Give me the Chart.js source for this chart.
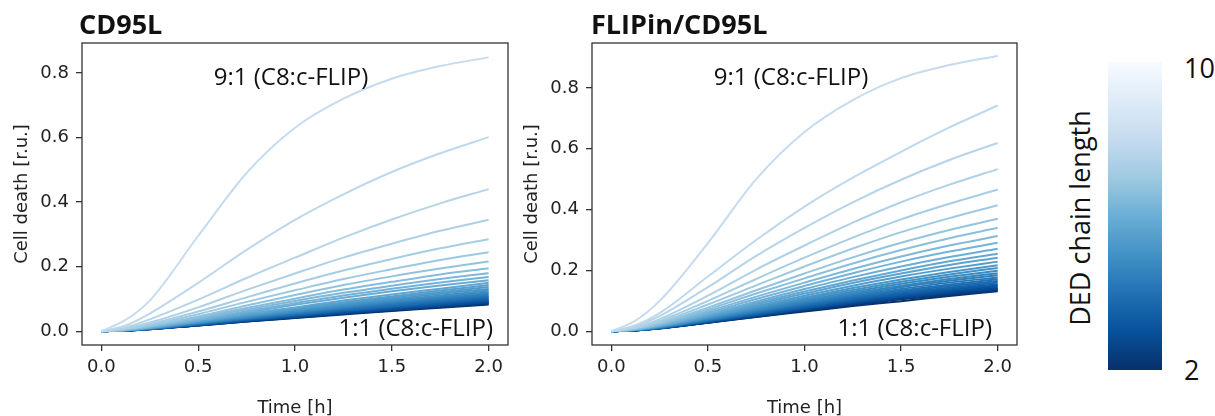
<!DOCTYPE html>
<html>
<head>
<meta charset="utf-8">
<script src="https://cdn.jsdelivr.net/npm/chart.js@4.4.1/dist/chart.umd.min.js"></script>
<style>
  body { margin: 0; background: #fff; }
  #page { position: relative; width: 1215px; height: 416px; overflow: hidden; font-family: "Open Sans", sans-serif; color: #111; }
  canvas { position: absolute; top: 0; }
  .title { position: absolute; top: 10px; font-weight: 700; font-size: 27px; line-height: 1; white-space: nowrap; }
  .note { position: absolute; font-size: 24px; line-height: 1; white-space: nowrap; }
  #cbar { position: absolute; left: 1108px; top: 62px; width: 54px; height: 308px;
    background: linear-gradient(to top, #08306b 0%, #08519c 12.5%, #2171b5 25%, #4292c6 37.5%, #6baed6 50%, #9ecae1 62.5%, #c6dbef 75%, #deebf7 87.5%, #f7fbff 100%); }
  .cbtick { position: absolute; left: 1184px; font-size: 27px; line-height: 1; }
  #cblabel { position: absolute; left: 1079px; top: 218px; font-size: 27px; line-height: 1; white-space: nowrap; transform: translate(-50%, -50%) rotate(-90deg); }
</style>
</head>
<body>
<div id="page">
  <canvas id="cd95l-chart" width="540" height="416" style="left:0"></canvas>
  <canvas id="flipin-chart" width="540" height="416" style="left:510px"></canvas>
  <div class="title" style="left:79px">CD95L</div>
  <div class="title" style="left:591px">FLIPin/CD95L</div>
  <div class="note" style="left:291px; top:76px; transform:translate(-50%,-50%)">9:1 (C8:c-FLIP)</div>
  <div class="note" style="left:493px; top:327px; transform:translate(-100%,-50%)">1:1 (C8:c-FLIP)</div>
  <div class="note" style="left:791px; top:76px; transform:translate(-50%,-50%)">9:1 (C8:c-FLIP)</div>
  <div class="note" style="left:992px; top:327px; transform:translate(-100%,-50%)">1:1 (C8:c-FLIP)</div>
  <div id="cbar"></div>
  <div class="cbtick" style="top:54px">10</div>
  <div class="cbtick" style="top:356px">2</div>
  <div id="cblabel">DED chain length</div>
</div>
<script>
const timeH = [0, 0.125, 0.25, 0.5, 0.75, 1.0, 1.25, 1.5, 1.75, 2.0];
const xTicks = [0, 0.5, 1.0, 1.5, 2.0];
const yTicks = [0, 0.2, 0.4, 0.6, 0.8];

// cell death per curve, 9:1 (top) down to 1:1 (bottom)
const cd95lDeath = [
  [0, 0.035, 0.095, 0.295, 0.490, 0.630, 0.720, 0.782, 0.821, 0.848],
  [0, 0.018, 0.055, 0.150, 0.252, 0.345, 0.424, 0.493, 0.551, 0.601],
  [0, 0.012, 0.037, 0.098, 0.165, 0.228, 0.290, 0.346, 0.396, 0.440],
  [0, 0.009, 0.027, 0.074, 0.128, 0.179, 0.228, 0.271, 0.311, 0.345],
  [0, 0.007, 0.022, 0.061, 0.105, 0.148, 0.188, 0.224, 0.257, 0.285],
  [0, 0.006, 0.019, 0.053, 0.091, 0.127, 0.162, 0.192, 0.221, 0.245],
  [0, 0.006, 0.017, 0.046, 0.080, 0.112, 0.143, 0.170, 0.194, 0.216],
  [0, 0.005, 0.015, 0.042, 0.072, 0.101, 0.129, 0.153, 0.176, 0.195],
  [0, 0.005, 0.014, 0.039, 0.067, 0.094, 0.119, 0.141, 0.162, 0.180],
  [0, 0.004, 0.013, 0.036, 0.062, 0.087, 0.111, 0.132, 0.151, 0.168],
  [0, 0.004, 0.012, 0.034, 0.058, 0.082, 0.104, 0.124, 0.142, 0.158],
  [0, 0.004, 0.011, 0.032, 0.054, 0.074, 0.095, 0.114, 0.132, 0.150],
  [0, 0.004, 0.011, 0.031, 0.051, 0.071, 0.090, 0.108, 0.126, 0.143],
  [0, 0.003, 0.010, 0.029, 0.049, 0.068, 0.087, 0.104, 0.121, 0.137],
  [0, 0.003, 0.010, 0.028, 0.047, 0.065, 0.083, 0.099, 0.116, 0.131],
  [0, 0.003, 0.009, 0.027, 0.045, 0.062, 0.080, 0.095, 0.111, 0.126],
  [0, 0.003, 0.009, 0.026, 0.043, 0.060, 0.076, 0.092, 0.107, 0.121],
  [0, 0.003, 0.009, 0.025, 0.042, 0.058, 0.074, 0.089, 0.103, 0.117],
  [0, 0.003, 0.008, 0.024, 0.040, 0.056, 0.071, 0.086, 0.100, 0.113],
  [0, 0.003, 0.008, 0.023, 0.039, 0.054, 0.069, 0.083, 0.096, 0.109],
  [0, 0.003, 0.008, 0.022, 0.038, 0.052, 0.066, 0.079, 0.093, 0.105],
  [0, 0.003, 0.008, 0.022, 0.037, 0.051, 0.064, 0.077, 0.090, 0.102],
  [0, 0.002, 0.007, 0.021, 0.035, 0.049, 0.063, 0.075, 0.087, 0.099],
  [0, 0.002, 0.007, 0.021, 0.034, 0.048, 0.061, 0.073, 0.085, 0.096],
  [0, 0.002, 0.007, 0.020, 0.033, 0.046, 0.059, 0.070, 0.082, 0.093],
  [0, 0.002, 0.007, 0.019, 0.033, 0.045, 0.058, 0.069, 0.080, 0.091],
  [0, 0.002, 0.007, 0.019, 0.032, 0.044, 0.056, 0.067, 0.078, 0.089],
  [0, 0.002, 0.006, 0.019, 0.031, 0.043, 0.055, 0.066, 0.077, 0.087],
  [0, 0.002, 0.006, 0.018, 0.030, 0.042, 0.054, 0.064, 0.075, 0.085],
  [0, 0.002, 0.006, 0.018, 0.030, 0.041, 0.052, 0.063, 0.073, 0.083],
];

const flipinDeath = [
  [0, 0.035, 0.100, 0.290, 0.500, 0.655, 0.760, 0.832, 0.875, 0.905],
  [0, 0.020, 0.060, 0.180, 0.300, 0.410, 0.505, 0.590, 0.670, 0.742],
  [0, 0.017, 0.050, 0.145, 0.248, 0.340, 0.424, 0.498, 0.563, 0.619],
  [0, 0.013, 0.040, 0.117, 0.203, 0.282, 0.357, 0.424, 0.482, 0.533],
  [0, 0.011, 0.034, 0.100, 0.172, 0.242, 0.308, 0.368, 0.419, 0.466],
  [0, 0.010, 0.030, 0.088, 0.151, 0.213, 0.272, 0.326, 0.372, 0.414],
  [0, 0.009, 0.027, 0.078, 0.135, 0.190, 0.243, 0.291, 0.333, 0.370],
  [0, 0.008, 0.024, 0.072, 0.124, 0.174, 0.223, 0.267, 0.306, 0.340],
  [0, 0.007, 0.022, 0.066, 0.114, 0.160, 0.205, 0.246, 0.282, 0.313],
  [0, 0.007, 0.021, 0.061, 0.106, 0.149, 0.191, 0.229, 0.262, 0.291],
  [0, 0.006, 0.019, 0.057, 0.098, 0.139, 0.178, 0.213, 0.244, 0.271],
  [0, 0.006, 0.018, 0.054, 0.093, 0.131, 0.167, 0.200, 0.230, 0.255],
  [0, 0.006, 0.017, 0.051, 0.088, 0.124, 0.159, 0.190, 0.218, 0.242],
  [0, 0.005, 0.016, 0.048, 0.083, 0.117, 0.150, 0.180, 0.206, 0.229],
  [0, 0.005, 0.015, 0.046, 0.079, 0.111, 0.142, 0.170, 0.195, 0.217],
  [0, 0.005, 0.015, 0.044, 0.076, 0.107, 0.136, 0.163, 0.187, 0.208],
  [0, 0.005, 0.014, 0.042, 0.072, 0.102, 0.130, 0.156, 0.179, 0.199],
  [0, 0.005, 0.014, 0.040, 0.069, 0.098, 0.125, 0.150, 0.172, 0.191],
  [0, 0.004, 0.013, 0.039, 0.067, 0.094, 0.120, 0.145, 0.166, 0.184],
  [0, 0.004, 0.013, 0.037, 0.064, 0.091, 0.116, 0.139, 0.160, 0.177],
  [0, 0.004, 0.012, 0.036, 0.062, 0.088, 0.112, 0.134, 0.154, 0.171],
  [0, 0.004, 0.012, 0.035, 0.060, 0.085, 0.108, 0.130, 0.149, 0.165],
  [0, 0.004, 0.011, 0.034, 0.058, 0.082, 0.105, 0.126, 0.144, 0.160],
  [0, 0.004, 0.011, 0.033, 0.056, 0.079, 0.101, 0.122, 0.140, 0.155],
  [0, 0.004, 0.011, 0.032, 0.055, 0.077, 0.099, 0.119, 0.136, 0.151],
  [0, 0.004, 0.011, 0.031, 0.053, 0.075, 0.096, 0.115, 0.132, 0.147],
  [0, 0.003, 0.010, 0.030, 0.052, 0.073, 0.094, 0.112, 0.129, 0.143],
  [0, 0.003, 0.010, 0.029, 0.051, 0.072, 0.092, 0.110, 0.126, 0.140],
  [0, 0.003, 0.010, 0.029, 0.050, 0.070, 0.090, 0.108, 0.123, 0.137],
  [0, 0.003, 0.010, 0.028, 0.048, 0.068, 0.087, 0.105, 0.120, 0.134],
  [0, 0.003, 0.009, 0.028, 0.047, 0.065, 0.083, 0.099, 0.116, 0.132],
];

// matplotlib "Blues" stops
const bluesStops = [
  [0.0, [247, 251, 255]], [0.125, [222, 235, 247]], [0.25, [198, 219, 239]],
  [0.375, [158, 202, 225]], [0.5, [107, 174, 214]], [0.625, [66, 146, 198]],
  [0.75, [33, 113, 181]], [0.875, [8, 81, 156]], [1.0, [8, 48, 107]],
];

function blues(t) {
  for (let i = 1; i < bluesStops.length; i++) {
    const [t1, c1] = bluesStops[i];
    const [t0, c0] = bluesStops[i - 1];
    if (t <= t1) {
      const f = (t - t0) / (t1 - t0);
      const c = c0.map((v, k) => Math.round(v + (c1[k] - v) * f));
      return `rgb(${c[0]}, ${c[1]}, ${c[2]})`;
    }
  }
  return "rgb(8, 48, 107)";
}

function toDatasets(rows) {
  return rows.map((row, i) => ({
    data: row.map((v, k) => ({ x: timeH[k], y: v })),
    borderColor: blues(0.25 + (0.75 * i) / (rows.length - 1)),
    borderWidth: 2,
    pointRadius: 0,
    fill: false,
    cubicInterpolationMode: "monotone",
  }));
}

const frame = {
  id: "frame",
  afterDatasetsDraw(chart) {
    const { ctx, chartArea: a } = chart;
    ctx.save();
    ctx.strokeStyle = "#333";
    ctx.lineWidth = 1.3;
    ctx.strokeRect(a.left, a.top, a.right - a.left, a.bottom - a.top);
    ctx.restore();
  },
};

const tickFont = { family: "DejaVu Sans", size: 18 };

function makeChart(canvasId, rows, yMin, yMax, padRight) {
  return new Chart(document.getElementById(canvasId), {
    type: "line",
    data: { datasets: toDatasets(rows) },
    plugins: [frame],
    options: {
      responsive: false,
      animation: false,
      layout: { padding: { top: 43, right: padRight, left: 0, bottom: 0 } },
      plugins: { legend: { display: false }, tooltip: { enabled: false } },
      scales: {
        x: {
          type: "linear",
          min: -0.1,
          max: 2.1,
          afterBuildTicks: (s) => { s.ticks = xTicks.map((v) => ({ value: v })); },
          afterFit: (s) => { s.height = 71; },
          border: { display: false },
          grid: { drawOnChartArea: false, drawTicks: true, tickLength: 6, color: "#333", lineWidth: 1.3 },
          ticks: { padding: 6, color: "#222", font: tickFont, maxRotation: 0, autoSkip: false, callback: (v) => Number(v).toFixed(1) },
          title: { display: true, text: "Time [h]", color: "#222", font: tickFont, padding: { top: 0, bottom: -3 } },
        },
        y: {
          type: "linear",
          min: yMin,
          max: yMax,
          afterBuildTicks: (s) => { s.ticks = yTicks.map((v) => ({ value: v })); },
          afterFit: (s) => { s.width = 82; },
          border: { display: false },
          grid: { drawOnChartArea: false, drawTicks: true, tickLength: 6, color: "#333", lineWidth: 1.3 },
          ticks: { padding: 7, color: "#222", font: tickFont, autoSkip: false, callback: (v) => Number(v).toFixed(1) },
          title: { display: true, text: "Cell death [r.u.]", color: "#222", font: tickFont, padding: { top: 12, bottom: 0 } },
        },
      },
    },
  });
}

makeChart("cd95l-chart", cd95lDeath, -0.0425, 0.8925, 32);
makeChart("flipin-chart", flipinDeath, -0.045, 0.9475, 33);
</script>
</body>
</html>
